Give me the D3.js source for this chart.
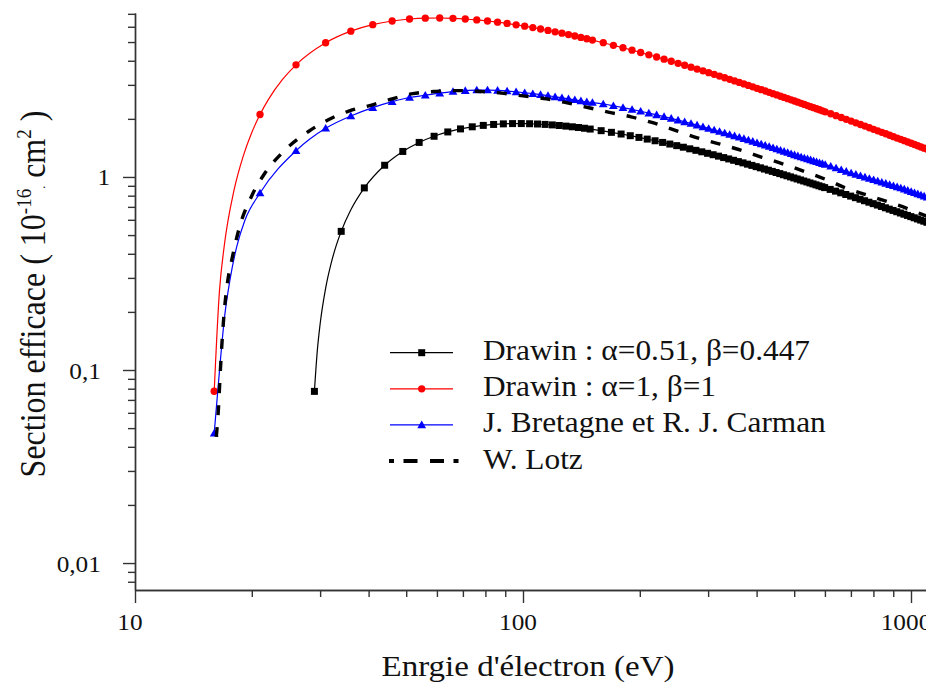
<!DOCTYPE html>
<html><head><meta charset="utf-8">
<script src="https://cdn.jsdelivr.net/npm/d3@7"></script>
<style>
body{margin:0;background:#fff}
svg{display:block}
text{font-family:"Liberation Serif","Times New Roman",serif;fill:#111}
</style>
</head><body>
<svg id="c" width="926" height="684"></svg>
<script>
// ---------------- data ----------------
// energies (eV) of the red & blue series
const energyRB = [16,21,26,31,36,41,46,51,56,61,66,71,76,81,86,91,96,101,106,111,116,121,126,131,136,141,146,151,
161,171,181,191,201,211,221,231,241,251,261,271,281,291,301,311,321,331,341,351,361,371,381,391,401,411,421,431,441,451,461,471,481,491,501,511,521,531,541,551,561,571,581,591,601,
621,641,661,681,701,721,741,761,781,801,821,841,861,881,901,921,941,961,981,1001,1021,1041,1061,1081,1101];
// Drawin alpha=1, beta=1  (1e-16 cm2)
const drawinA1 = [0.0776,2.107,3.810,4.958,5.694,6.153,6.428,6.580,6.649,6.661,6.635,6.582,6.511,6.428,6.337,6.241,6.142,6.042,5.942,5.843,5.745,5.649,5.555,5.463,5.373,5.286,5.201,5.118,
4.960,4.810,4.670,4.537,4.412,4.294,4.182,4.076,3.976,3.881,3.791,3.705,3.623,3.546,3.471,3.400,3.332,3.267,3.205,3.145,3.088,3.033,2.980,2.929,2.880,2.833,2.788,2.744,2.701,2.660,2.620,2.582,2.545,2.509,2.474,2.440,2.407,2.376,2.344,2.314,2.285,2.257,2.229,2.202,2.176,
2.125,2.078,2.032,1.989,1.947,1.908,1.870,1.834,1.799,1.766,1.734,1.703,1.674,1.645,1.618,1.591,1.566,1.541,1.518,1.495,1.473,1.451,1.430,1.410,1.391];
// J. Bretagne et R. J. Carman
const bretagne = [0.047,0.826,1.368,1.788,2.07,2.286,2.455,2.58,2.65,2.72,2.77,2.80,2.82,2.82,2.81,2.79,2.76,2.73,2.70,2.67,2.64,2.60,2.57,2.54,2.51,2.48,2.45,2.43,
2.388,2.338,2.288,2.238,2.190,2.142,2.097,2.053,2.011,1.970,1.930,1.892,1.855,1.818,1.784,1.752,1.721,1.690,1.661,1.633,1.606,1.579,1.554,1.529,1.505,1.482,1.460,1.438,1.417,1.396,1.376,1.357,1.338,1.320,1.302,1.286,1.270,1.255,1.241,1.226,1.212,1.199,1.185,1.173,1.160,
1.136,1.112,1.090,1.069,1.049,1.031,1.014,0.998,0.982,0.968,0.953,0.939,0.926,0.913,0.901,0.889,0.877,0.865,0.852,0.840,0.828,0.817,0.806,0.796,0.785];
// energies of the black Drawin series
const energyK = [29,34,39,44,49,54,59,64,69,74,79,84,89,94,99,104,109,114,119,124,129,134,139,144,149,
159,169,179,189,199,209,219,229,239,249,259,269,279,289,299,309,319,329,339,349,359,369,379,389,399,409,419,429,439,449,459,469,479,489,499,509,519,529,539,549,559,569,579,589,599,
619,639,659,679,699,719,739,759,779,799,819,839,859,879,899,919,939,959,979,999,1019,1039,1059,1079,1099];
// Drawin alpha=0.51, beta=0.447
const drawinA051 = [0.0775,0.5227,0.8778,1.150,1.356,1.510,1.625,1.711,1.774,1.819,1.850,1.871,1.884,1.890,1.891,1.887,1.881,1.872,1.861,1.848,1.834,1.819,1.804,1.788,1.771,
1.737,1.703,1.669,1.636,1.603,1.571,1.540,1.510,1.481,1.453,1.426,1.399,1.374,1.350,1.326,1.304,1.282,1.260,1.240,1.220,1.201,1.183,1.165,1.148,1.131,1.115,1.099,1.084,1.069,1.055,1.041,1.027,1.014,1.001,0.9886,0.9765,0.9647,0.9532,0.9421,0.9312,0.9206,0.9102,0.9001,0.8903,0.8807,
0.8621,0.8445,0.8275,0.8114,0.7959,0.7811,0.7668,0.7531,0.7400,0.7274,0.7152,0.7035,0.6922,0.6813,0.6708,0.6606,0.6507,0.6413,0.6320,0.6231,0.6145,0.6061,0.5980,0.5901,0.5824];
// extra curve points on the steep rise near threshold (line only, no symbol)
const riseA1E = [16.5,17,18,19,20,22,24];
const riseA1S = [0.254,0.446,0.855,1.279,1.700,2.494,3.200];
const riseA051E = [29.5,30,31,32,33,36];
const riseA051S = [0.1256,0.1730,0.2657,0.3549,0.4406,0.6757];
const riseBretE = [16.24,17.06,17.57,18.29,19.21];
const riseBretS = [0.067,0.197,0.293,0.436,0.599];
// W. Lotz (dashed line)
const lotzE = [16.2,16.4,16.6,16.8,17.0,17.3,17.8,18.5,20,21.5,24,28,31.5,35.7,40.5,46,52,59,65,71,78,88,100,115,130,147,167,190,216,248,280,322,367,413,470,540,608,685,780,870,975,1100];
const lotzS = [0.045,0.062,0.100,0.150,0.205,0.28,0.38,0.53,0.80,1.03,1.34,1.72,1.98,2.20,2.35,2.54,2.70,2.77,2.80,2.80,2.77,2.72,2.63,2.54,2.42,2.29,2.16,2.05,1.91,1.74,1.60,1.48,1.37,1.265,1.165,1.055,0.965,0.87,0.80,0.745,0.688,0.625];
// axes
const xMajor = [10,100,1000];
const xMajorLabels = ["10","100","1000"];
const xMinor = [20,30,40,50,60,70,80,90,200,300,400,500,600,700,800,900];
const yMajor = [0.01,0.1,1];
const yMajorLabels = ["0,01","0,1","1"];
const yMinor = [0.008,0.009,0.02,0.03,0.04,0.05,0.06,0.07,0.08,0.09,0.2,0.3,0.4,0.5,0.6,0.7,0.8,0.9,2,3,4,5,6,7];
const legendLabels = ["Drawin : \u03b1=0.51, \u03b2=0.447","Drawin : \u03b1=1, \u03b2=1","J. Bretagne et R. J. Carman","W. Lotz"];
const xTitle = "Enrgie d'\u00e9lectron (eV)";

// ---------------- drawing ----------------
const SX = 1.1; // horizontal stretch of the original picture's lettering
const svg = d3.select("#c");
svg.append("rect").attr("width",926).attr("height",684).attr("fill","#fff");

const x = d3.scaleLog().domain([10,1100]).range([135,927.06]);
const y = d3.scaleLog().domain([0.00725,7.07]).range([590,13]);
const axisCol = "#333";

// X axis
const gx = svg.append("g").attr("transform","translate(0,590)");
gx.call(d3.axisBottom(x).tickValues(xMinor).tickSize(7).tickSizeOuter(0).tickFormat(""));
const gx2 = svg.append("g").attr("transform","translate(0,590)");
gx2.call(d3.axisBottom(x).tickValues(xMajor).tickSize(13).tickSizeOuter(0).tickFormat((d,i)=>xMajorLabels[i]));
gx2.selectAll("text").attr("y",40).attr("dy",0).attr("x",-5)
  .attr("transform",`scale(${SX},1)`).style("font-size","23px").attr("fill","#111");
// Y axis
const gy = svg.append("g").attr("transform","translate(135,0)");
gy.call(d3.axisLeft(y).tickValues(yMinor).tickSize(7).tickSizeOuter(0).tickFormat(""));
const gy2 = svg.append("g").attr("transform","translate(135,0)");
gy2.call(d3.axisLeft(y).tickValues(yMajor).tickSize(12).tickSizeOuter(0).tickFormat((d,i)=>yMajorLabels[i]));
gy2.selectAll("text").attr("dy",0).attr("y",8)
  .attr("x",d => d===1 ? -22.7 : -31)
  .attr("transform",`scale(${SX},1)`).style("font-size","23px").attr("fill","#111");
svg.selectAll(".domain, .tick line").attr("stroke",axisCol).attr("stroke-width",1.4);
svg.selectAll(".tick text").attr("font-family",null);

// series helpers
const line = d3.line().x(d=>x(d[0])).y(d=>y(d[1])).curve(d3.curveMonotoneX);
function merged(E,S,RE,RS){
  const pts = E.map((e,i)=>[e,S[i]]).concat(RE.map((e,i)=>[e,RS[i]]));
  return pts.sort((a,b)=>a[0]-b[0]);
}
const sq = d3.symbol().type(d3.symbolSquare).size(49)();
const circ = d3.symbol().type(d3.symbolCircle).size(42)();
const tri = "M0,-4.3L4.4,3.3L-4.4,3.3Z";

function series(E,S,RE,RS,col,sym){
  const g = svg.append("g");
  g.append("path").attr("d",line(merged(E,S,RE,RS))).attr("fill","none")
    .attr("stroke",col).attr("stroke-width",1.2);
  g.selectAll("path.m").data(E.map((e,i)=>[e,S[i]])).enter().append("path").attr("class","m")
    .attr("d",sym).attr("fill",col)
    .attr("transform",d=>`translate(${x(d[0])},${y(d[1])})`);
}
series(energyK,drawinA051,riseA051E,riseA051S,"#000",sq);
series(energyRB,drawinA1,riseA1E,riseA1S,"#ff0000",circ);
series(energyRB,bretagne,riseBretE,riseBretS,"#0000ff",tri);
svg.append("path").attr("d",d3.line().x(d=>x(d[0])).y(d=>y(d[1])).curve(d3.curveMonotoneX)(lotzE.map((e,i)=>[e,lotzS[i]])))
  .attr("fill","none").attr("stroke","#000").attr("stroke-width",3.4).attr("stroke-dasharray","10,12");

// legend
const legCols = ["#000","#ff0000","#0000ff","#000"];
const legSyms = [sq,circ,tri,null];
legendLabels.forEach((lab,i)=>{
  const ly = 352.7 + 36.1*i;
  const g = svg.append("g");
  if(i<3){
    g.append("line").attr("x1",390).attr("x2",453).attr("y1",ly).attr("y2",ly)
      .attr("stroke",legCols[i]).attr("stroke-width",1.2);
    g.append("path").attr("d",legSyms[i]).attr("fill",legCols[i]).attr("transform",`translate(421.7,${ly})`);
  } else {
    g.append("line").attr("x1",389).attr("x2",459).attr("y1",ly).attr("y2",ly)
      .attr("stroke","#000").attr("stroke-width",4).attr("stroke-dasharray","5,9.5,14,12.5,14,9.5,5");
  }
  g.append("text").attr("transform",`translate(483,${ly+7.5}) scale(${SX},1)`)
    .style("font-size","28.5px").text(lab);
});

// axis titles
svg.append("text").attr("transform",`translate(528,676) scale(${SX},1)`)
  .attr("text-anchor","middle").style("font-size","30px").text(xTitle);
const yt = svg.append("text").attr("transform",`translate(45,294) scale(${SX},1) rotate(-90)`)
  .attr("text-anchor","middle").style("font-size","32px");
yt.append("tspan").text("Section efficace ( 10");
yt.append("tspan").attr("dy",-13).style("font-size","19px").text("-16");
yt.append("tspan").attr("dy",13).style("font-size","12px").text(".");
yt.append("tspan").style("font-size","32px").text(" cm");
yt.append("tspan").attr("dy",-13).style("font-size","19px").text("2");
yt.append("tspan").attr("dy",13).style("font-size","32px").text(" )");
</script>
</body></html>
